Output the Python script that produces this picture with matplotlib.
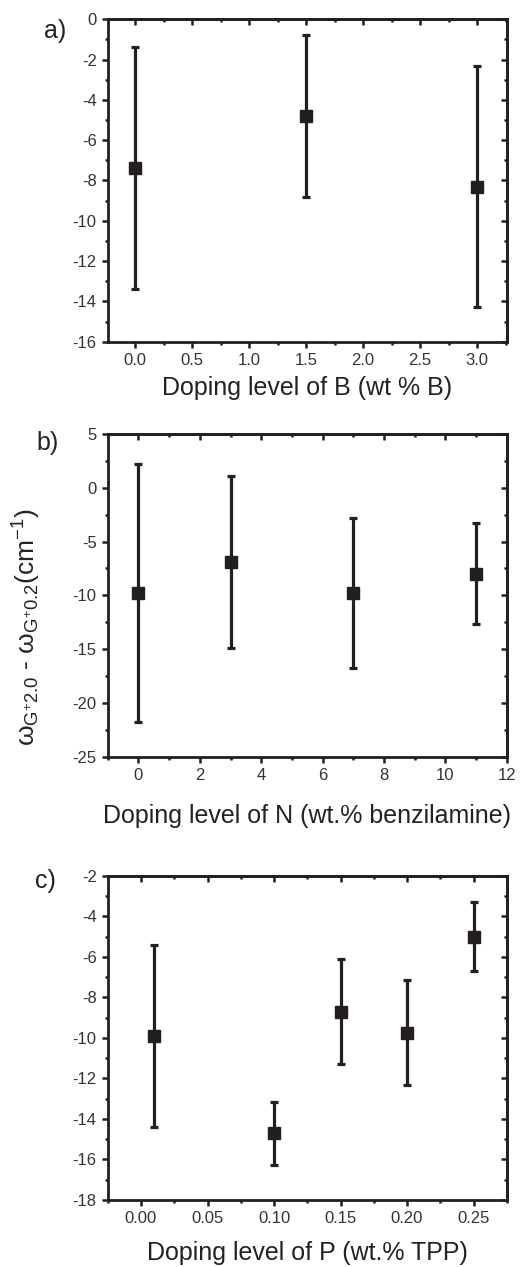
import matplotlib
matplotlib.use('Agg')
import matplotlib.pyplot as plt
from matplotlib.ticker import MultipleLocator, NullFormatter

plt.rcParams['font.family'] = ['Liberation Sans', 'DejaVu Sans']
plt.rcParams['mathtext.fontset'] = 'custom'
plt.rcParams['mathtext.rm'] = 'Liberation Sans'
plt.rcParams['mathtext.it'] = 'Liberation Sans'
plt.rcParams['axes.unicode_minus'] = False

ink = '#231f20'

# panel a: boron
b_x = [0.0, 1.5, 3.0]
b_y = [-7.4, -4.8, -8.3]
b_err = [6.0, 4.0, 6.0]

# panel b: nitrogen
n_x = [0, 3, 7, 11]
n_y = [-9.8, -6.9, -9.8, -8.0]
n_err = [12.0, 8.0, 7.0, 4.7]

# panel c: phosphorus
p_x = [0.01, 0.10, 0.15, 0.20, 0.25]
p_y = [-9.9, -14.7, -8.7, -9.75, -5.0]
p_err = [4.5, 1.55, 2.6, 2.6, 1.7]

fig = plt.figure(figsize=(5.23, 12.67), dpi=100)

panels = [
    dict(pos=[0.206, 0.7303, 0.763, 0.2545], x=b_x, y=b_y, e=b_err,
         xlim=(-0.24, 3.26), ylim=(-16, 0), xmaj=0.5, xmin=0.25, ymaj=2, ymin=1,
         xfmt='{:.1f}', xlabel='Doping level of B (wt % B)', tag='a)', tagpos=(0.085, 0.970), pad=6),
    dict(pos=[0.206, 0.4028, 0.763, 0.2547], x=n_x, y=n_y, e=n_err,
         xlim=(-1, 12), ylim=(-25, 5), xmaj=2, xmin=1, ymaj=5, ymin=2.5,
         xfmt='{:.0f}', xlabel='Doping level of N (wt.% benzilamine)', tag='b)', tagpos=(0.070, 0.645), pad=15),
    dict(pos=[0.206, 0.0529, 0.763, 0.2559], x=p_x, y=p_y, e=p_err,
         xlim=(-0.025, 0.275), ylim=(-18, -2), xmaj=0.05, xmin=0.025, ymaj=2, ymin=1,
         xfmt='{:.2f}', xlabel='Doping level of P (wt.% TPP)', tag='c)', tagpos=(0.066, 0.299), pad=11),
]

for p in panels:
    ax = fig.add_axes(p['pos'])
    ax.errorbar(p['x'], p['y'], yerr=p['e'], fmt='s', color=ink, ms=8.6,
                elinewidth=2.3, capsize=3, capthick=2.3)
    ax.set_xlim(*p['xlim'])
    ax.set_ylim(*p['ylim'])
    ax.xaxis.set_major_locator(MultipleLocator(p['xmaj']))
    ax.xaxis.set_minor_locator(MultipleLocator(p['xmin']))
    ax.yaxis.set_major_locator(MultipleLocator(p['ymaj']))
    ax.yaxis.set_minor_locator(MultipleLocator(p['ymin']))
    ax.xaxis.set_major_formatter(plt.FuncFormatter(lambda v, _, f=p['xfmt']: f.format(v)))
    ax.tick_params(which='both', direction='out', width=1.8, color=ink,
                   labelsize=12, labelcolor='#333333')
    ax.tick_params(which='major', length=4.5)
    ax.tick_params(which='minor', length=2.5)
    for s in ax.spines.values():
        s.set_linewidth(2.0)
        s.set_color(ink)
    # mirrored ticks on top and right, pointing inwards
    top = ax.secondary_xaxis('top')
    right = ax.secondary_yaxis('right')
    for sec, axis in ((top, top.xaxis), (right, right.yaxis)):
        axis.set_major_locator(MultipleLocator(p['xmaj'] if sec is top else p['ymaj']))
        axis.set_minor_locator(MultipleLocator(p['xmin'] if sec is top else p['ymin']))
        axis.set_major_formatter(NullFormatter())
        sec.tick_params(which='both', direction='in', width=1.8, color=ink)
        sec.tick_params(which='major', length=4.5)
        sec.tick_params(which='minor', length=2.5)
        for s in sec.spines.values():
            s.set_linewidth(2.0)
            s.set_color(ink)
    ax.set_xlabel(p['xlabel'], fontsize=18, labelpad=p['pad'], color='#222222')
    fig.text(p['tagpos'][0], p['tagpos'][1], p['tag'], fontsize=18, color='#222222')

fig.text(0.052, 0.505,
         r'$\omega_{\mathrm{G}^{+}2.0}$ - $\omega_{\mathrm{G}^{+}0.2}$(cm$^{-1}$)',
         rotation=90, fontsize=19, ha='center', va='center', color='#222222')

fig.savefig('out.png', dpi=100)
